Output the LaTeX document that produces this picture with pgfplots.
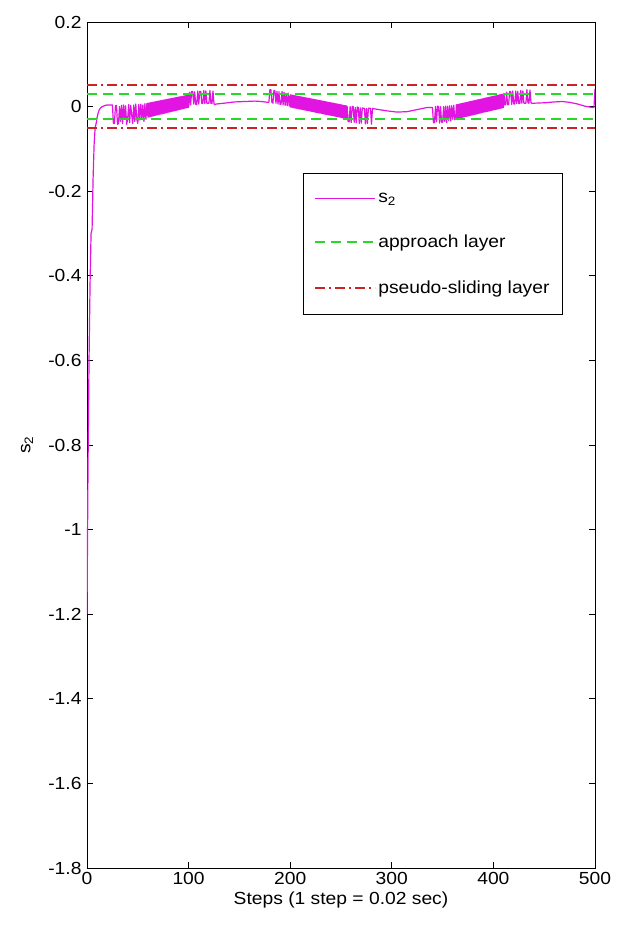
\documentclass[border=0pt]{standalone}
\usepackage{pgfplots}
\pgfplotsset{compat=1.18}
\usepackage{fontspec}
\setmainfont[FakeStretch=1.1]{Liberation Sans}

\definecolor{sigmag}{RGB}{225,20,225}
\definecolor{appgreen}{RGB}{40,215,40}
\definecolor{psred}{RGB}{205,35,35}

\newcommand{\lblfont}{\fontsize{17.5}{21}\selectfont}

\begin{document}
\begin{tikzpicture}
\begin{axis}[
  scale only axis,
  width=508pt, height=846pt,
  xmin=0, xmax=500, ymin=-1.8, ymax=0.2,
  xtick={0,100,200,300,400,500},
  xticklabels={0,100,200,300,400,500},
  ytick={-1.8,-1.6,-1.4,-1.2,-1,-0.8,-0.6,-0.4,-0.2,0,0.2},
  yticklabels={-1.8,-1.6,-1.4,-1.2,-1,-0.8,-0.6,-0.4,-0.2,0,0.2},
  tick align=inside,
  major tick length=6pt,
  tick style={black, line width=0.8pt},
  axis line style={black, line width=0.9pt},
  tick label style={font=\lblfont},
  xticklabel style={yshift=-1pt},
  yticklabel style={xshift=-2pt},
  label style={font=\lblfont},
  xlabel={Steps (1 step = 0.02 sec)},
  xlabel style={at={(axis description cs:0.5,-0.038)}, anchor=center},
  ylabel={s\textsubscript{2}},
  ylabel style={at={(axis description cs:-0.118,0.5)}, anchor=center},
  legend style={at={(rel axis cs:0.425,0.8215)}, anchor=north west,
    draw=black, line width=0.8pt, fill=white, font=\lblfont,
    row sep=27pt, inner xsep=11pt, inner ysep=18pt,
    nodes={inner sep=2pt}},
  legend cell align=left,
  legend image code/.code={\draw[#1] (0pt,0pt) -- (60pt,0pt);},
]

% sliding variable s_2 over the 500 simulation steps
\addplot[sigmag, line width=1.2pt, line join=round] table {
x y
0 -1.20
1 -0.85
2 -0.60
3 -0.42
4 -0.30
5 -0.29
6 -0.17
7 -0.09
8 -0.05
9 -0.04
10 -0.025
11 -0.015
12 -0.008
13 -0.004
14 -0.002
15 0.000
16 0.001
17 0.002
18 0.003
19 0.003
20 0.004
21 0.004
22 0.004
23 0.004
24 0.004
25 0.004
26 -0.040
27 -0.040
28 0.002
29 0.003
30 -0.042
31 -0.040
32 0.000
33 -0.035
34 0.003
35 -0.040
36 0.004
37 -0.030
38 0.002
39 -0.042
40 -0.030
41 0.005
42 -0.038
43 0.003
44 -0.020
45 -0.040
46 0.004
47 -0.035
48 0.006
49 -0.030
50 -0.040
51 0.005
52 -0.032
53 0.006
54 -0.028
55 0.004
56 -0.035
57 0.007
58 -0.030
59 0.008
60 -0.025
60.5 0.0082
61 -0.0244
61.5 0.0087
62 -0.0238
62.5 0.0092
63 -0.0233
63.5 0.0097
64 -0.0227
64.5 0.0102
65 -0.0221
65.5 0.0106
66 -0.0215
66.5 0.0111
67 -0.0209
67.5 0.0116
68 -0.0204
68.5 0.0121
69 -0.0198
69.5 0.0126
70 -0.0192
70.5 0.0130
71 -0.0186
71.5 0.0135
72 -0.0180
72.5 0.0140
73 -0.0175
73.5 0.0145
74 -0.0169
74.5 0.0150
75 -0.0163
75.5 0.0154
76 -0.0157
76.5 0.0159
77 -0.0151
77.5 0.0164
78 -0.0146
78.5 0.0169
79 -0.0140
79.5 0.0174
80 -0.0134
80.5 0.0178
81 -0.0128
81.5 0.0183
82 -0.0122
82.5 0.0188
83 -0.0117
83.5 0.0193
84 -0.0111
84.5 0.0198
85 -0.0105
85.5 0.0202
86 -0.0099
86.5 0.0207
87 -0.0093
87.5 0.0212
88 -0.0088
88.5 0.0217
89 -0.0082
89.5 0.0222
90 -0.0076
90.5 0.0226
91 -0.0070
91.5 0.0231
92 -0.0064
92.5 0.0236
93 -0.0059
93.5 0.0241
94 -0.0053
94.5 0.0246
95 -0.0047
95.5 0.0250
96 -0.0041
96.5 0.0255
97 -0.0035
97.5 0.0260
98 -0.0030
98.5 0.0265
99 -0.0024
99.5 0.0270
100 -0.0018
101 0.034
102 0.004
103 0.036
104 0.036
105 0.006
106 0.035
107 0.005
108 0.005
109 0.037
110 0.006
111 0.036
112 0.036
113 0.007
114 0.008
115 0.038
116 0.007
117 0.037
118 0.008
119 0.008
120 0.008
121 0.038
122 0.007
123 0.007
124 0.037
125 0.006
126 0.005
127 0.006
135 0.008
145 0.011
155 0.012
165 0.013
172 0.012
178 0.010
179 0.010
180 0.040
181 0.040
182 0.010
183 0.008
184 0.038
185 0.037
186 0.008
187 0.036
188 0.006
189 0.035
190 0.005
191 0.006
192 0.036
193 0.004
194 0.034
195 0.003
196 0.030
197 0.002
198 0.032
199 0.001
200 0.0280
200.5 -0.0012
201 0.0275
201.5 -0.0017
202 0.0271
202.5 -0.0022
203 0.0266
203.5 -0.0027
204 0.0261
204.5 -0.0032
205 0.0256
205.5 -0.0037
206 0.0252
206.5 -0.0042
207 0.0247
207.5 -0.0047
208 0.0242
208.5 -0.0052
209 0.0237
209.5 -0.0057
210 0.0233
210.5 -0.0061
211 0.0228
211.5 -0.0066
212 0.0223
212.5 -0.0071
213 0.0219
213.5 -0.0076
214 0.0214
214.5 -0.0081
215 0.0209
215.5 -0.0086
216 0.0204
216.5 -0.0091
217 0.0200
217.5 -0.0096
218 0.0195
218.5 -0.0101
219 0.0190
219.5 -0.0106
220 0.0185
220.5 -0.0110
221 0.0181
221.5 -0.0115
222 0.0176
222.5 -0.0120
223 0.0171
223.5 -0.0125
224 0.0166
224.5 -0.0130
225 0.0162
225.5 -0.0135
226 0.0157
226.5 -0.0140
227 0.0152
227.5 -0.0145
228 0.0148
228.5 -0.0150
229 0.0143
229.5 -0.0155
230 0.0138
230.5 -0.0159
231 0.0133
231.5 -0.0164
232 0.0129
232.5 -0.0169
233 0.0124
233.5 -0.0174
234 0.0119
234.5 -0.0179
235 0.0114
235.5 -0.0184
236 0.0110
236.5 -0.0189
237 0.0105
237.5 -0.0194
238 0.0100
238.5 -0.0199
239 0.0095
239.5 -0.0204
240 0.0091
240.5 -0.0208
241 0.0086
241.5 -0.0213
242 0.0081
242.5 -0.0218
243 0.0077
243.5 -0.0223
244 0.0072
244.5 -0.0228
245 0.0067
245.5 -0.0233
246 0.0062
246.5 -0.0238
247 0.0058
247.5 -0.0243
248 0.0053
248.5 -0.0248
249 0.0048
249.5 -0.0253
250 0.0043
250.5 -0.0257
251 0.0039
251.5 -0.0262
252 0.0034
252.5 -0.0267
253 0.0029
253.5 -0.0272
254 0.0024
254.5 -0.0277
255 0.0020
255.5 -0.0280
256 0.001
257 -0.035
258 -0.036
259 0.000
260 -0.038
261 0.000
262 0.000
263 -0.037
264 -0.002
265 -0.038
266 -0.001
267 -0.002
268 -0.040
269 -0.003
270 -0.039
271 -0.003
272 -0.004
273 -0.004
274 -0.041
275 -0.004
276 -0.040
277 -0.004
278 -0.004
279 -0.004
280 -0.042
281 -0.004
282 -0.005
295 -0.010
305 -0.013
315 -0.012
325 -0.007
335 -0.002
340 -0.002
341 -0.038
342 -0.038
343 0.000
344 -0.036
345 0.001
346 0.000
347 -0.039
348 0.000
349 -0.037
350 -0.037
351 0.000
352 -0.035
353 0.001
354 -0.038
355 0.001
356 -0.033
357 0.002
358 -0.034
359 0.002
360 -0.030
361 0.003
362 -0.031
363 -0.0290
363.5 0.0043
364 -0.0284
364.5 0.0048
365 -0.0279
365.5 0.0054
366 -0.0273
366.5 0.0059
367 -0.0267
367.5 0.0065
368 -0.0262
368.5 0.0070
369 -0.0256
369.5 0.0076
370 -0.0250
370.5 0.0081
371 -0.0244
371.5 0.0087
372 -0.0239
372.5 0.0092
373 -0.0233
373.5 0.0098
374 -0.0227
374.5 0.0103
375 -0.0222
375.5 0.0109
376 -0.0216
376.5 0.0114
377 -0.0210
377.5 0.0120
378 -0.0204
378.5 0.0125
379 -0.0199
379.5 0.0131
380 -0.0193
380.5 0.0136
381 -0.0187
381.5 0.0142
382 -0.0182
382.5 0.0147
383 -0.0176
383.5 0.0153
384 -0.0170
384.5 0.0158
385 -0.0165
385.5 0.0164
386 -0.0159
386.5 0.0169
387 -0.0153
387.5 0.0175
388 -0.0147
388.5 0.0180
389 -0.0142
389.5 0.0186
390 -0.0136
390.5 0.0191
391 -0.0130
391.5 0.0197
392 -0.0125
392.5 0.0202
393 -0.0119
393.5 0.0208
394 -0.0113
394.5 0.0213
395 -0.0108
395.5 0.0219
396 -0.0102
396.5 0.0224
397 -0.0096
397.5 0.0230
398 -0.0090
398.5 0.0235
399 -0.0085
399.5 0.0241
400 -0.0079
400.5 0.0246
401 -0.0073
401.5 0.0252
402 -0.0068
402.5 0.0257
403 -0.0062
403.5 0.0263
404 -0.0056
404.5 0.0268
405 -0.0051
405.5 0.0274
406 -0.0045
406.5 0.0279
407 -0.0039
407.5 0.0285
408 -0.0033
408.5 0.0290
409 -0.0028
409.5 0.0296
410 -0.0022
410.5 0.0300
411 0.005
412 0.004
413 0.034
414 0.004
415 0.005
416 0.036
417 0.035
418 0.005
419 0.037
420 0.006
421 0.006
422 0.037
423 0.007
424 0.036
425 0.007
426 0.007
427 0.038
428 0.008
429 0.037
430 0.008
431 0.008
432 0.008
433 0.040
434 0.009
435 0.008
436 0.039
437 0.009
438 0.008
440 0.008
450 0.009
460 0.011
468 0.012
475 0.010
483 0.006
490 0.001
497 -0.002
499 -0.002
500 0.042
};
\addlegendentry{s\textsubscript{2}}

% approach layer (upper and lower bound)
\addplot[appgreen, line width=2pt, dash pattern=on 10pt off 6pt] coordinates {(0,0.03) (500,0.03)};
\addlegendentry{approach layer}
\addplot[appgreen, line width=2pt, dash pattern=on 10pt off 6pt, forget plot] coordinates {(0,-0.03) (500,-0.03)};

% pseudo-sliding layer (upper and lower bound)
\addplot[psred, line width=2pt, dash pattern=on 10pt off 4pt on 2pt off 4pt] coordinates {(0,0.05) (500,0.05)};
\addlegendentry{pseudo-sliding layer}
\addplot[psred, line width=2pt, dash pattern=on 10pt off 4pt on 2pt off 4pt, forget plot] coordinates {(0,-0.05) (500,-0.05)};
\end{axis}
% page frame
\path ([shift={(-87pt,-61pt)}]current axis.south west) rectangle ([shift={(22pt,22pt)}]current axis.north east);
\end{tikzpicture}
\end{document}
